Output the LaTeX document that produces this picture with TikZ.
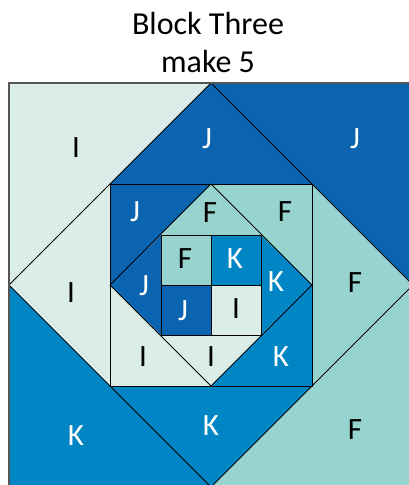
\documentclass[tikz,border=0pt]{standalone}
\usepackage{fontspec}
\setmainfont{Carlito}
\definecolor{cI}{HTML}{DAEDE8}
\definecolor{cJ}{HTML}{0A64AF}
\definecolor{cK}{HTML}{0085C5}
\definecolor{cF}{HTML}{97D4D0}
\definecolor{cframe}{HTML}{555555}
\tikzset{
  title/.style={font=\fontsize{32}{38}\selectfont, align=center},
  patch/.style={font=\fontsize{31}{31}\selectfont, text=black, inner sep=0pt},
  patchw/.style={patch, text=white},
  seam/.style={draw=black, line width=1pt, line join=miter},
}
\begin{document}
\begin{tikzpicture}[x=1pt, y=-1pt]
  \clip[use as bounding box] (0,0) rectangle (409,485);
  % ---------- corners of the three squares ----------
  \foreach \n/\r in {o/202, m/101, c/50} {
    \coordinate (\n t) at (211,285-\r);
    \coordinate (\n b) at (211,285+\r);
    \coordinate (\n l) at (211-\r,285);
    \coordinate (\n r) at (211+\r,285);
    \coordinate (\n tl) at (211-\r,285-\r);
    \coordinate (\n tr) at (211+\r,285-\r);
    \coordinate (\n bl) at (211-\r,285+\r);
    \coordinate (\n br) at (211+\r,285+\r);
  }
  \coordinate (mid) at (211,285);
  % ---------- triangles ----------
  \foreach \a/\b/\c/\col in {otl/ot/ol/cI, otr/ot/or/cJ, obl/ob/ol/cK, obr/ob/or/cF,
      ot/mtl/mtr/cJ, or/mtr/mbr/cF, ob/mbl/mbr/cK, ol/mtl/mbl/cI,
      mtl/mt/ml/cJ, mtr/mt/mr/cF, mbr/mb/mr/cK, mbl/mb/ml/cI,
      mt/ctl/ctr/cF, mr/ctr/cbr/cK, mb/cbl/cbr/cI, ml/ctl/cbl/cJ} {
    \fill[\col] (\a) -- (\b) -- (\c) -- cycle;
  }
  % ---------- centre squares ----------
  \foreach \a/\b/\col in {ctl/mid/cF, ctr/mid/cK, cbl/mid/cJ, cbr/mid/cI} {
    \fill[\col] (\a) rectangle (\b);
  }
  % ---------- seams ----------
  \draw[seam] (ot) -- (or) -- (ob) -- (ol) -- cycle;
  \draw[seam] (mtl) rectangle (mbr);
  \draw[seam] (mt) -- (mr) -- (mb) -- (ml) -- cycle;
  \draw[seam] (ctl) rectangle (cbr);
  \draw[seam] (ct) -- (cb);
  \draw[seam] (cl) -- (cr);
  \draw[cframe, line width=1.2pt] (obl) -- (otl) -- (otr);
  % ---------- labels ----------
  \node[title] (heading) at (208,43) {Block Three\\make 5};
  \foreach \x/\y/\w [count=\i] in {76/148/I, 355/430/F, 71/293/I, 355/283/F, 210/213/F,
      285/212/F, 185/259/F, 236/309/I, 143/357/I, 211/357/I} {
    \node[patch] (dark\i) at (\x,\y) {\w};
  }
  \foreach \x/\y/\w [count=\i] in {207/139/J, 355/139/J, 135/212/J, 144/286/J, 183/311/J,
      235/259/K, 276/282/K, 281/357/K, 76/436/K, 211/426/K} {
    \node[patchw] (light\i) at (\x,\y) {\w};
  }
\end{tikzpicture}
\end{document}
